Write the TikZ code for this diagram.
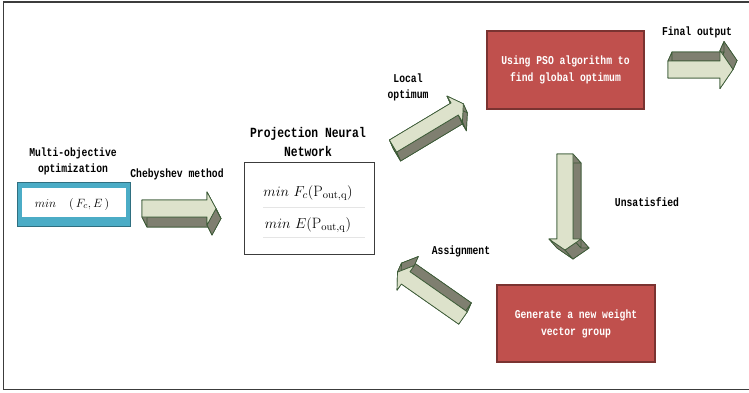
\documentclass[tikz,border=0pt]{standalone}
\usepackage{fontspec}
\newfontfamily\lblfont{Liberation Mono}[FakeStretch=0.81]
\definecolor{boxred}{HTML}{C0504D}
\definecolor{redline}{HTML}{7A3331}
\definecolor{boxblue}{HTML}{4BACC6}
\definecolor{blueline}{HTML}{2F6F80}
\definecolor{facelight}{HTML}{DDE2CB}
\definecolor{facedark}{HTML}{7F7F70}
\definecolor{edgegreen}{HTML}{3B5A36}
\definecolor{framegray}{HTML}{3C3C3C}

% Extruded block arrow: name, tail x, tail y, angle, length,
% half body width, half head width, head length, depth offset (dx,dy)
\newcommand{\solidarrow}[9]{%
  \begin{scope}[shift={(#2,#3)},rotate=#4]
    \coordinate (#1f1) at (0,#6);
    \coordinate (#1f2) at (#5-#8,#6);
    \coordinate (#1f3) at (#5-#8,#7);
    \coordinate (#1f4) at (#5,0);
    \coordinate (#1f5) at (#5-#8,-#7);
    \coordinate (#1f6) at (#5-#8,-#6);
    \coordinate (#1f7) at (0,-#6);
  \end{scope}
  \begin{scope}[shift={#9}]
    \begin{scope}[shift={(#2,#3)},rotate=#4]
      \coordinate (#1b1) at (0,#6);
      \coordinate (#1b2) at (#5-#8,#6);
      \coordinate (#1b3) at (#5-#8,#7);
      \coordinate (#1b4) at (#5,0);
      \coordinate (#1b5) at (#5-#8,-#7);
      \coordinate (#1b6) at (#5-#8,-#6);
      \coordinate (#1b7) at (0,-#6);
    \end{scope}
  \end{scope}
  \filldraw[arrowside] (#1b1) -- (#1b2) -- (#1b3) -- (#1b4) -- (#1b5) -- (#1b6) -- (#1b7) -- cycle;
  \foreach \i/\j in {1/2,2/3,3/4,4/5,5/6,6/7,7/1}
    \filldraw[arrowside] (#1f\i) -- (#1f\j) -- (#1b\j) -- (#1b\i) -- cycle;
  \filldraw[arrowface] (#1f1) -- (#1f2) -- (#1f3) -- (#1f4) -- (#1f5) -- (#1f6) -- (#1f7) -- cycle;
}

\begin{document}
\begin{tikzpicture}[x=1pt,y=-1pt,
  lbl/.style={font=\lblfont\bfseries\fontsize{12}{16}\selectfont, align=center, inner sep=0pt},
  redbox/.style={draw=redline, fill=boxred, line width=1.1pt, text=white,
    font=\lblfont\bfseries\fontsize{12}{17}\selectfont, align=center, inner sep=0pt},
  arrowside/.style={fill=facedark, draw=edgegreen, line width=0.7pt, line join=round},
  arrowface/.style={fill=facelight, draw=edgegreen, line width=0.7pt, line join=round},
  formula/.style={font=\fontsize{15}{17}\selectfont, inner sep=0pt}]

\useasboundingbox (0,0) rectangle (749,392);
\draw[framegray, line width=1.6pt] (3.5,2) rectangle (760,389.5);

% Multi-objective box
\node[lbl] (mlabel) at (73,161) {Multi-objective\\optimization};
\node[draw=blueline, fill=boxblue, line width=0.8pt, minimum width=113pt, minimum height=44pt, inner sep=0pt] (mobox) at (73.5,204) {};
\node[fill=white, minimum width=104pt, minimum height=29pt, inner sep=0pt] (moinner) at (74,202.5) {};
\node[font=\fontsize{13}{15}\selectfont, inner sep=0pt] (moform) at (72,204) {$min\quad(\,F_{c},E\,)$};

\node[lbl] (cheb) at (177,174) {Chebyshev method};
\solidarrow{a1}{142}{208.5}{0}{74}{8.5}{16.5}{9}{(5,10)}

% Projection neural network box
\node[lbl, font=\lblfont\bfseries\fontsize{14}{19}\selectfont] (pnnlabel) at (308,141.5) {Projection Neural\\Network};
\node[draw=framegray, line width=0.9pt, minimum width=130pt, minimum height=92pt, inner sep=0pt] (pnnbox) at (309.5,208) {};
\node[formula] (f1) at (308,193) {$min\ F_{c}(\mathrm{P}_{\mathrm{out,q}})$};
\node[formula] (f2) at (308,225) {$min\ E(\mathrm{P}_{\mathrm{out,q}})$};
\draw[gray!20, line width=0.6pt] (263,207) -- (365,207);
\draw[gray!20, line width=0.6pt] (263,237) -- (365,237);

\node[lbl] (local) at (408,87) {Local\\optimum};
\solidarrow{a2}{393}{146}{31}{82}{7}{15}{10}{(4,9)}

% PSO box and final output
\node[redbox, minimum width=157pt, minimum height=78pt] (pso) at (565.5,70) {Using PSO algorithm to\\find global optimum};
\node[lbl] (final) at (697,32) {Final output};
\solidarrow{a3}{668}{69.5}{0}{65}{8.5}{19}{13}{(4,-9)}

\node[lbl] (unsat) at (647,202) {Unsatisfied};
\solidarrow{a4}{565}{154}{-90}{96}{8}{16}{11}{(8,9)}

% New weight vector box
\node[redbox, minimum width=158pt, minimum height=77pt] (gen) at (576,323.5) {Generate a new weight\\vector group};
\node[lbl] (assign) at (461,251) {Assignment};
\solidarrow{a5}{463}{318}{145}{80}{7.5}{15}{10}{(4,-9)}

\end{tikzpicture}
\end{document}
